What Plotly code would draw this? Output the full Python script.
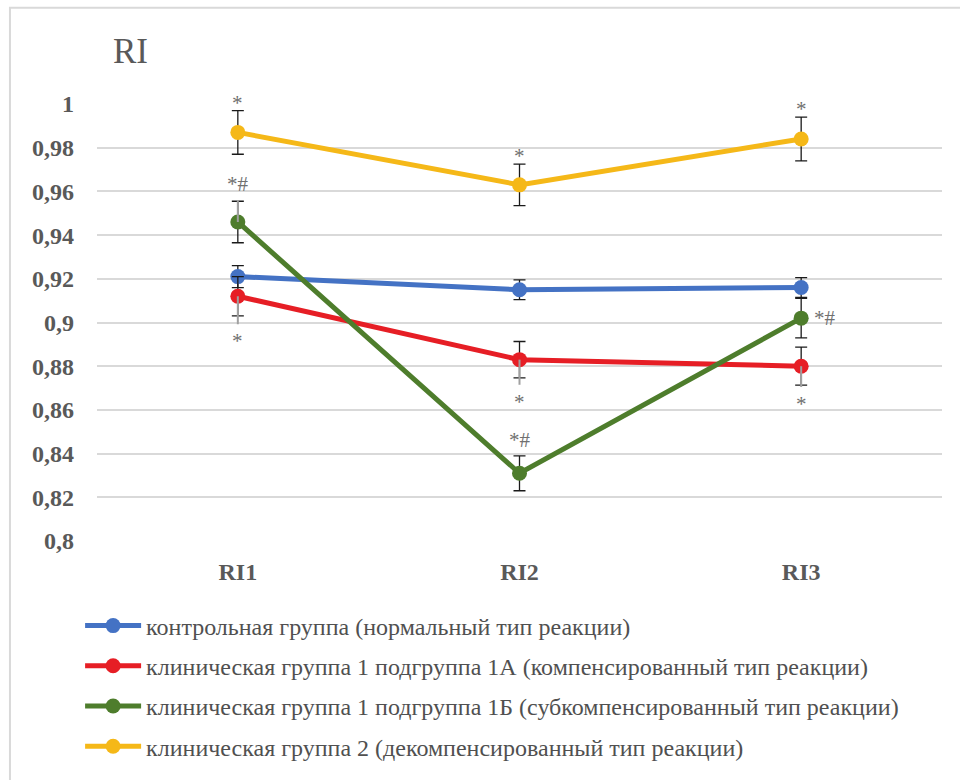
import plotly.graph_objects as go

# Categories and series
categories = ["RI1", "RI2", "RI3"]

series_names = [
    "контрольная группа (нормальный тип реакции)",
    "клиническая группа 1 подгруппа 1А (компенсированный тип реакции)",
    "клиническая группа 1 подгруппа 1Б (субкомпенсированный тип реакции)",
    "клиническая группа 2 (декомпенсированный тип реакции)",
]
control = [0.921, 0.915, 0.916]
group_1a = [0.912, 0.883, 0.880]
group_1b = [0.946, 0.831, 0.902]
group_2 = [0.987, 0.963, 0.984]

control_err = [0.005, 0.0045, 0.0045]
group_1a_err = [0.009, 0.0083, 0.0087]
group_1b_err = [0.0095, 0.008, 0.009]
group_2_err = [0.010, 0.0095, 0.010]

# secondary (grey) error whiskers
group_1a_err_grey_minus = [0.0128, 0.0115, 0.0095]
group_1b_err_grey_plus = [0.010, 0.0, 0.0]

# significance marks: (series index, category index, text, position)
marks = [
    (3, 0, "*", "above"), (3, 1, "*", "above"), (3, 2, "*", "above"),
    (2, 0, "*#", "above"), (2, 1, "*#", "above"), (2, 2, "*#", "right"),
    (1, 0, "*", "below"), (1, 1, "*", "below"), (1, 2, "*", "below"),
]

y_tickvals = [0.8, 0.82, 0.84, 0.86, 0.88, 0.9, 0.92, 0.94, 0.96, 0.98, 1.0]
y_ticktext = ["0,8", "0,82", "0,84", "0,86", "0,88", "0,9", "0,92", "0,94", "0,96", "0,98", "1"]

colors = ["#4472C4", "#E61E25", "#4E7D2C", "#F5B818"]
values = [control, group_1a, group_1b, group_2]
errors = [control_err, group_1a_err, group_1b_err, group_2_err]
grey_plus = [[0, 0, 0], [0, 0, 0], group_1b_err_grey_plus, [0, 0, 0]]
grey_minus = [[0, 0, 0], group_1a_err_grey_minus, [0, 0, 0], [0, 0, 0]]

FONT = "Liberation Serif"
TEXT_GREY = "#595959"
MARK_FONT = dict(family=FONT, size=21, color="#707070")

fig = go.Figure()

for i, (name, vals, errs, col) in enumerate(zip(series_names, values, errors, colors)):
    fig.add_trace(go.Scatter(
        x=categories, y=vals, name=name, mode="lines+markers",
        line=dict(color=col, width=5),
        marker=dict(color=col, size=15),
        error_y=dict(type="data", array=errs, visible=True,
                     color="#1a1a1a", thickness=1.3, width=6),
        legendgroup=f"g{i}",
    ))

# grey whiskers
fig.add_trace(go.Scatter(
    x=categories, y=group_1a, mode="markers", marker=dict(size=0.1, opacity=0),
    error_y=dict(type="data", symmetric=False, array=[0, 0, 0],
                 arrayminus=group_1a_err_grey_minus, color="#A0A0A0",
                 thickness=2, width=0),
    showlegend=False, hoverinfo="skip",
))
fig.add_trace(go.Scatter(
    x=categories, y=group_1b, mode="markers", marker=dict(size=0.1, opacity=0),
    error_y=dict(type="data", symmetric=False, array=group_1b_err_grey_plus,
                 arrayminus=[0, 0, 0], color="#A0A0A0", thickness=2, width=0),
    showlegend=False, hoverinfo="skip",
))

annotations = []
for si, ci, txt, pos in marks:
    v = values[si][ci]
    top = v + max(errors[si][ci], grey_plus[si][ci])
    bottom = v - max(errors[si][ci], grey_minus[si][ci])
    if pos == "above":
        annotations.append(dict(x=categories[ci], y=top, text=txt, showarrow=False,
                                yanchor="bottom", yshift=(-6 if txt == "*" else 2),
                                font=MARK_FONT))
    elif pos == "below":
        annotations.append(dict(x=categories[ci], y=bottom, text=txt, showarrow=False,
                                yanchor="top", yshift=-3, font=MARK_FONT))
    else:
        annotations.append(dict(x=categories[ci], y=v, text=txt, showarrow=False,
                                xanchor="left", xshift=11, yshift=0, font=MARK_FONT))

annotations.append(dict(xref="paper", yref="paper", x=0.017, y=1.12, text="RI",
                        showarrow=False, xanchor="left", yanchor="middle",
                        font=dict(family=FONT, size=35, color=TEXT_GREY)))

fig.update_layout(
    width=960, height=780,
    margin=dict(l=97, r=18, t=104, b=239, autoexpand=False),
    paper_bgcolor="white", plot_bgcolor="white",
    font=dict(family=FONT, color=TEXT_GREY),
    showlegend=True,
    legend=dict(
        x=-0.02, y=-0.143, xanchor="left", yanchor="top",
        orientation="v", itemwidth=56, tracegroupgap=6,
        font=dict(family=FONT, size=24, color="#505050"),
        bgcolor="rgba(0,0,0,0)",
    ),
    annotations=annotations,
    shapes=[dict(type="rect", xref="paper", yref="paper",
                 x0=-0.103, x1=1.2, y0=-0.7, y1=1.22,
                 line=dict(color="#D9D9D9", width=2), layer="below")],
)

fig.update_xaxes(
    type="category", range=[-0.5, 2.5], showgrid=False, showline=False,
    zeroline=False, ticks="",
    tickfont=dict(family=FONT, size=24, color=TEXT_GREY, weight="bold"),
    ticklabelstandoff=14,
)
fig.update_yaxes(
    range=[0.8, 1.0], tickvals=y_tickvals, ticktext=y_ticktext,
    showgrid=True, gridcolor="#D9D9D9", gridwidth=1.6,
    zeroline=False, showline=False, ticks="",
    tickfont=dict(family=FONT, size=24, color=TEXT_GREY, weight="bold"),
    ticklabelstandoff=22,
)

fig.write_html("out.html")
